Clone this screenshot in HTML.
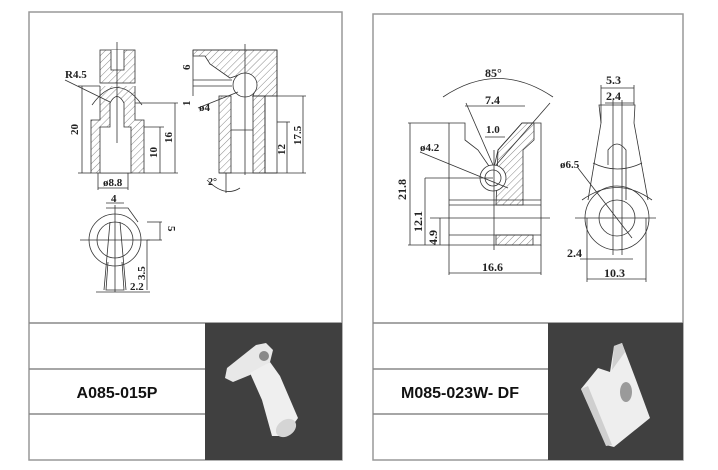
<!DOCTYPE html>
<html><head><meta charset="utf-8"><style>
body{margin:0;background:#fff;width:718px;height:470px;overflow:hidden}
svg{display:block}
text{font-family:"Liberation Serif",serif;font-weight:bold;fill:#222}
.t{font-family:"Liberation Sans",sans-serif;font-weight:bold;font-size:16px;fill:#111}
.l{stroke:#333;stroke-width:0.8;fill:none}
</style></head><body>
<svg width="718" height="470" viewBox="0 0 718 470">
<defs>
<pattern id="h" width="5" height="5" patternUnits="userSpaceOnUse" patternTransform="rotate(45)"><line x1="0" y1="0" x2="0" y2="5" stroke="#555" stroke-width="0.7"/></pattern>
</defs>
<rect x="29" y="12" width="313" height="448" fill="#fff" stroke="#999" stroke-width="1.5"/>
<rect x="373" y="14" width="310" height="446" fill="#fff" stroke="#999" stroke-width="1.5"/>
<line x1="29" y1="323" x2="342" y2="323" stroke="#888" stroke-width="1.5"/>
<line x1="29" y1="369" x2="205" y2="369" stroke="#888" stroke-width="1.5"/>
<line x1="29" y1="414" x2="205" y2="414" stroke="#888" stroke-width="1.5"/>
<rect x="205" y="323" width="137" height="137" fill="#404040"/>
<line x1="373" y1="323" x2="683" y2="323" stroke="#888" stroke-width="1.5"/>
<line x1="373" y1="369" x2="548" y2="369" stroke="#888" stroke-width="1.5"/>
<line x1="373" y1="414" x2="548" y2="414" stroke="#888" stroke-width="1.5"/>
<rect x="548" y="323" width="135" height="137" fill="#404040"/>
<text class="t" x="117" y="398" text-anchor="middle">A085-015P</text>
<text class="t" x="460" y="398" text-anchor="middle">M085-023W- DF</text>

<!-- left front view -->
<g class="l">
<rect x="100" y="50" width="35" height="33" fill="url(#h)"/>
<path d="M111 50 V70 H124 V50" fill="#fff"/>
<path d="M100 86 V120 H91 V173 H144 V120 H135 V86" fill="url(#h)"/>
<path d="M110 103 Q117 90 124 103 V127 H131 V173 H100 V127 H110 Z" fill="#fff"/>
<path d="M92 105 Q117 70 142 105"/>
<line x1="117" y1="42" x2="117" y2="143"/>
<line x1="82" y1="86" x2="82" y2="173"/><line x1="78" y1="86" x2="100" y2="86"/><line x1="78" y1="173" x2="91" y2="173"/>
<line x1="160" y1="127" x2="160" y2="173"/><line x1="144" y1="127" x2="164" y2="127"/><line x1="144" y1="173" x2="178" y2="173"/>
<line x1="175" y1="103" x2="175" y2="173"/><line x1="135" y1="103" x2="178" y2="103"/>
<line x1="98" y1="188" x2="128" y2="188"/><line x1="98" y1="173" x2="98" y2="190"/><line x1="128" y1="173" x2="128" y2="190"/>
<line x1="65" y1="80" x2="110" y2="102"/>
</g>
<text x="65" y="78" font-size="11">R4.5</text>
<text x="78" y="135" font-size="11" transform="rotate(-90 78 135)">20</text>
<text x="157" y="158" font-size="11" transform="rotate(-90 157 158)">10</text>
<text x="172" y="143" font-size="11" transform="rotate(-90 172 143)">16</text>
<text x="103" y="186" font-size="11">ø8.8</text>

<!-- left side view -->
<g class="l">
<path d="M193 50 H277 V173 H265 V96 H252" />
<path d="M193 50 H277 V96 H253 L257 85 L245 73 L230 78 L210 64 L205 56 H193 Z" fill="url(#h)"/>
<rect x="219" y="96" width="12" height="77" fill="url(#h)"/>
<rect x="253" y="96" width="12" height="77" fill="url(#h)"/>
<line x1="193" y1="50" x2="193" y2="96"/>
<line x1="193" y1="80" x2="232" y2="80"/><line x1="193" y1="86" x2="232" y2="86"/>
<circle cx="245" cy="85" r="12" fill="#fff"/>
<line x1="245" y1="44" x2="245" y2="175"/>
<line x1="231" y1="130" x2="253" y2="130"/>
<line x1="219" y1="173" x2="277" y2="173"/>
<line x1="287" y1="122" x2="287" y2="173"/><line x1="303" y1="96" x2="303" y2="173"/>
<line x1="265" y1="96" x2="306" y2="96"/><line x1="277" y1="122" x2="290" y2="122"/><line x1="265" y1="173" x2="306" y2="173"/>
<line x1="198" y1="108" x2="238" y2="92"/>
<line x1="226" y1="173" x2="226" y2="193"/>
<path d="M207 180 Q225 198 240 188"/>
</g>
<text x="190" y="70" font-size="11" transform="rotate(-90 190 70)">6</text>
<text x="190" y="106" font-size="11" transform="rotate(-90 190 106)">1</text>
<text x="199" y="111" font-size="11">ø4</text>
<text x="285" y="155" font-size="11" transform="rotate(-90 285 155)">12</text>
<text x="301" y="145" font-size="11" transform="rotate(-90 301 145)">17.5</text>
<text x="208" y="185" font-size="10">2°</text>

<!-- left bottom view -->
<g class="l">
<circle cx="115" cy="240" r="26"/>
<circle cx="115" cy="240" r="18"/>
<path d="M106 208 H128 L138 222"/>
<path d="M108 262 L106 290 H124 L122 262"/>
<path d="M110 222 L104 290 M120 222 L126 290"/>
<line x1="80" y1="240" x2="150" y2="240"/>
<line x1="115" y1="205" x2="115" y2="292"/>
<line x1="106" y1="203" x2="124" y2="203"/>
<line x1="147" y1="222" x2="162" y2="222"/><line x1="147" y1="240" x2="162" y2="240"/><line x1="160" y1="222" x2="160" y2="240"/>
<line x1="147" y1="240" x2="147" y2="290"/>
<line x1="96" y1="292" x2="150" y2="292"/>
</g>
<text x="111" y="202" font-size="11">4</text>
<text x="168" y="226" font-size="11" transform="rotate(90 168 226)">5</text>
<text x="145" y="280" font-size="11" transform="rotate(-90 145 280)">3.5</text>
<text x="130" y="290" font-size="11">2.2</text>

<!-- right front view -->
<g class="l">
<path d="M449 123 H465 V140 L478 150 L493 172 L498 150 L522 123 H541 V245 H449 Z"/>
<path d="M498 150 L522 123 H534 V140 L523 150 V205 H496 Z" fill="url(#h)"/>
<rect x="496" y="235" width="37" height="10" fill="url(#h)"/>
<circle cx="493" cy="178" r="13" fill="#fff"/>
<circle cx="493" cy="178" r="8"/>
<line x1="449" y1="200" x2="541" y2="200"/><line x1="449" y1="205" x2="541" y2="205"/>
<line x1="449" y1="235" x2="541" y2="235"/>
<line x1="494" y1="150" x2="494" y2="250"/>
<line x1="430" y1="218" x2="550" y2="218"/>
<line x1="466" y1="103" x2="493" y2="165"/><line x1="550" y1="103" x2="496" y2="165"/>
<path d="M443 97 Q498 60 553 97"/>
<line x1="465" y1="106" x2="525" y2="106"/>
<line x1="485" y1="137" x2="505" y2="137"/>
<line x1="408" y1="123" x2="449" y2="123"/><line x1="410" y1="123" x2="410" y2="245"/>
<line x1="425" y1="178" x2="425" y2="245"/><line x1="425" y1="178" x2="493" y2="178"/>
<line x1="440" y1="218" x2="440" y2="245"/>
<line x1="408" y1="245" x2="449" y2="245"/>
<line x1="449" y1="245" x2="449" y2="275"/><line x1="541" y1="245" x2="541" y2="275"/>
<line x1="449" y1="273" x2="541" y2="273"/>
<line x1="420" y1="152" x2="508" y2="188"/>
</g>
<text x="485" y="77" font-size="12">85°</text>
<text x="485" y="104" font-size="12">7.4</text>
<text x="486" y="133" font-size="11">1.0</text>
<text x="420" y="151" font-size="11">ø4.2</text>
<text x="406" y="200" font-size="12" transform="rotate(-90 406 200)">21.8</text>
<text x="422" y="232" font-size="12" transform="rotate(-90 422 232)">12.1</text>
<text x="437" y="245" font-size="12" transform="rotate(-90 437 245)">4.9</text>
<text x="482" y="271" font-size="12">16.6</text>

<!-- right side view -->
<g class="l">
<path d="M601 123 L599 105 H635 L634 123"/>
<line x1="601" y1="123" x2="588" y2="200"/><line x1="634" y1="123" x2="648" y2="200"/>
<circle cx="617" cy="218" r="32"/>
<circle cx="617" cy="218" r="18"/>
<path d="M608 165 V150 Q617 138 626 150 V200"/>
<path d="M593 163 Q617 175 642 163"/>
<path d="M582 200 Q617 175 652 200"/>
<line x1="613" y1="100" x2="613" y2="255"/><line x1="622" y1="100" x2="622" y2="255"/>
<line x1="575" y1="218" x2="656" y2="218"/>
<line x1="601" y1="88" x2="634" y2="88"/><line x1="605" y1="103" x2="634" y2="103"/>
<line x1="601" y1="85" x2="601" y2="123"/><line x1="634" y1="85" x2="634" y2="105"/>
<line x1="578" y1="168" x2="632" y2="238"/>
<line x1="580" y1="259" x2="633" y2="259"/>
<line x1="587" y1="218" x2="587" y2="282"/><line x1="646" y1="218" x2="646" y2="282"/>
<line x1="587" y1="279" x2="646" y2="279"/>
</g>
<text x="606" y="84" font-size="12">5.3</text>
<text x="606" y="100" font-size="12">2.4</text>
<text x="560" y="168" font-size="11">ø6.5</text>
<text x="567" y="257" font-size="12">2.4</text>
<text x="604" y="277" font-size="12">10.3</text>

<!-- photos -->
<g>
<path d="M227 368 L256 345 L266 343 L273 350 L270 362 L250 375 L233 382 L225 378 Z" fill="#e8e8e8"/>
<circle cx="264" cy="356" r="5" fill="#888"/>
<path d="M250 373 L270 362 L280 376 L298 418 L285 436 L272 436 L262 400 Z" fill="#efefef"/>
<ellipse cx="286" cy="428" rx="11" ry="8" fill="#d5d5d5" transform="rotate(-35 286 428)"/>
<path d="M581 389 L598 368 L610 372 L614 346 L622 343 L636 380 L650 418 L614 447 L606 445 Z" fill="#eeeeee"/>
<path d="M614 346 L622 343 L625 352 L612 370 Z" fill="#d0d0d0"/>
<ellipse cx="626" cy="392" rx="6" ry="10" fill="#9a9a9a"/>
<path d="M581 389 L588 386 L612 445 L606 446 Z" fill="#cfcfcf"/>
</g>
</svg>
</body></html>
